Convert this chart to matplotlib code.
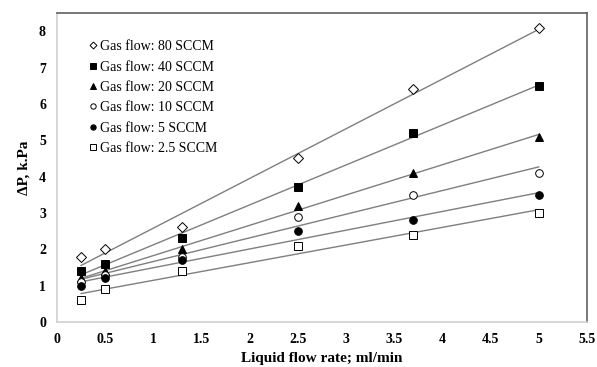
import numpy as np
import matplotlib.pyplot as plt

plt.rcParams['font.family'] = ['Liberation Serif', 'DejaVu Serif']

x = np.array([0.25, 0.5, 1.3, 2.5, 3.7, 5.0])
labels = ["Gas flow: 80 SCCM", "Gas flow: 40 SCCM", "Gas flow: 20 SCCM",
          "Gas flow: 10 SCCM", "Gas flow: 5 SCCM", "Gas flow: 2.5 SCCM"]
dp80 = [1.8, 2.0, 2.6, 4.5, 6.4, 8.1]
dp40 = [1.4, 1.6, 2.3, 3.7, 5.2, 6.5]
dp20 = [1.2, 1.4, 2.0, 3.2, 4.1, 5.1]
dp10 = [1.1, 1.3, 1.8, 2.9, 3.5, 4.1]
dp5 = [1.0, 1.2, 1.7, 2.5, 2.8, 3.5]
dp25 = [0.6, 0.9, 1.4, 2.1, 2.4, 3.0]
series = [dp80, dp40, dp20, dp10, dp5, dp25]
markers = [('D', 'white', 5), ('s', 'black', 5.5), ('^', 'black', 5.5),
           ('o', 'white', 5.5), ('o', 'black', 5.5), ('s', 'white', 5.5)]

fig = plt.figure(figsize=(5.97, 3.67), dpi=100)
ax = fig.add_axes([0.0955, 0.1226, 0.8875, 0.842])

# linear trendlines + data points
for y, lab, (m, fc, ms) in zip(series, labels, markers):
    a, b = np.polyfit(x, y, 1)
    xx = np.array([x[0], x[-1]])
    ax.plot(xx, a * xx + b, '-', color='#7f7f7f', lw=1.0, zorder=1)
    ax.plot(x, y, m, mfc=fc, mec='black', ms=ms, mew=0.7, ls='none',
            label=lab, zorder=2)

ax.set_xlim(0, 5.5)
ax.set_ylim(0, 8.5)
ax.set_xticks(np.arange(0, 5.51, 0.5))
ax.set_xticklabels(['0', '0.5', '1', '1.5', '2', '2.5', '3', '3.5', '4', '4.5', '5', '5.5'])
ax.set_yticks(range(0, 9))
ax.tick_params(length=0, labelsize=10, pad=8)
for t in ax.get_xticklabels() + ax.get_yticklabels():
    t.set_fontweight('bold')
ax.spines['left'].set_color('#d0d0d0')
ax.spines['bottom'].set_color('#d0d0d0')
ax.spines['top'].set_color('#606060')
ax.spines['right'].set_color('#606060')
for s in ax.spines.values():
    s.set_linewidth(1.2)

ax.set_xlabel('Liquid flow rate; ml/min', fontsize=11, fontweight='bold', labelpad=4)
ax.set_ylabel('ΔP, k.Pa', fontsize=11, fontweight='bold', labelpad=6)

ax.legend(loc='upper left', bbox_to_anchor=(0.045, 0.93), frameon=False,
          fontsize=10, handletextpad=0.0, handlelength=1.0, labelspacing=0.53,
          markerscale=0.7, borderaxespad=0)

fig.savefig('out.png', dpi=100)
